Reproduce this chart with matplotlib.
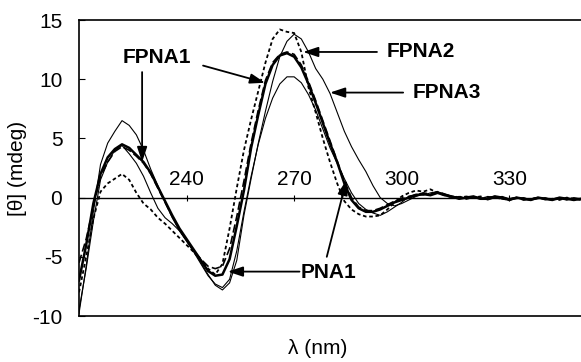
import numpy as np
import matplotlib
matplotlib.use("Agg")
import matplotlib.pyplot as plt

plt.rcParams['font.family'] = ['Liberation Sans', 'DejaVu Sans']
plt.rcParams['axes.unicode_minus'] = False

# Wavelength grid (nm), 2 nm steps
wavelength = np.arange(210, 351, 2)

# CD signals (mdeg)
thin_a = [-9.8, -5.8, -1.2, 2.8, 4.6, 5.6, 6.5, 6.1, 5.3, 4.0,
          2.4, 1.0, -0.4, -1.7, -2.8, -3.7, -4.6, -5.6, -6.6, -7.3,
          -7.6, -6.9, -4.5, -1.2, 1.8, 4.5, 6.7, 8.4, 9.6, 10.2,
          10.2, 9.7, 8.7, 7.4, 5.8, 4.2, 2.9, 1.6, 0.4, -0.5,
          -1.0, -1.3, -1.5, -1.2, -0.8, -0.4,
          0.1, 0.3, 0.2, 0.4, 0.5, 0.3, 0.1, 0.0, -0.1, 0.1, 0.0, -0.2, 0.0,
          0.1, -0.1, 0.0, -0.2, -0.1, 0.0, -0.2, -0.1, 0.0, -0.2, -0.1, -0.2]
thick_b = [-7.0, -4.0, -0.5, 2.0, 3.4, 4.1, 4.5, 4.2, 3.6, 3.0,
           2.1, 0.9, -0.3, -1.5, -2.6, -3.5, -4.4, -5.3, -6.2, -6.6,
           -6.5, -5.2, -2.4, 0.6, 4.2, 7.0, 9.6, 11.2, 12.0, 12.2,
           11.9, 11.0, 9.6, 8.0, 6.3, 4.6, 3.0, 1.2, -0.2, -0.9,
           -1.2, -1.2, -1.0, -0.7, -0.4, -0.2,
           0.0, 0.2, 0.3, 0.2, 0.4, 0.2, 0.1, -0.1, 0.0, 0.1, -0.1, -0.1, 0.1,
           0.0, -0.2, 0.0, -0.1, -0.2, 0.0, -0.1, -0.2, 0.0, -0.1, -0.2, -0.1]
dash_c = [-5.5, -3.5, -0.8, 1.8, 3.0, 3.9, 4.3, 4.0, 3.5, 2.9,
          2.0, 0.8, -0.4, -1.6, -2.7, -3.6, -4.5, -5.2, -5.8, -6.0,
          -5.8, -4.3, -1.6, 1.4, 4.6, 7.4, 9.9, 11.4, 12.1, 12.3,
          12.1, 11.2, 9.8, 8.2, 6.5, 4.8, 3.1, 1.4, 0.0, -0.8,
          -1.1, -1.1, -0.9, -0.6, -0.3, -0.1,
          0.1, 0.2, 0.4, 0.3, 0.5, 0.3, 0.1, 0.0, 0.1, 0.0, -0.1, 0.0, 0.1,
          -0.1, -0.1, 0.0, -0.2, -0.1, 0.0, -0.1, -0.2, -0.1, 0.0, -0.2, -0.1]
dot_d = [-8.0, -5.0, -1.8, 0.5, 1.2, 1.6, 2.0, 1.5, 0.4, -0.5,
         -1.0, -1.7, -2.2, -2.8, -3.4, -4.0, -4.6, -5.3, -6.0, -6.5,
         -5.6, -2.6, 0.8, 4.0, 6.6, 9.0, 11.4, 13.4, 14.2, 14.0,
         13.9, 12.3, 9.3, 7.2, 5.0, 3.0, 1.2, -0.3, -1.0, -1.4,
         -1.6, -1.6, -1.5, -1.0, -0.4, 0.1,
         0.4, 0.6, 0.5, 0.7, 0.4, 0.2, 0.0, 0.1, -0.1, 0.0, 0.1, -0.1, 0.0,
         -0.1, -0.2, 0.0, -0.1, -0.2, 0.0, -0.1, -0.1, -0.2, 0.0, -0.1, -0.2]
thin_e = [-9.5, -6.0, -2.0, 1.5, 3.0, 4.0, 4.4, 3.7, 2.9, 1.8,
          0.4, -0.9, -1.7, -2.2, -2.8, -3.6, -4.5, -5.5, -6.5, -7.4,
          -7.8, -7.2, -5.3, -1.5, 1.6, 4.6, 7.3, 9.8, 11.9, 13.2,
          13.8, 13.4, 12.3, 10.9, 10.0, 8.8, 7.2, 5.6, 4.3, 3.2,
          2.2, 1.0, 0.0, -0.5, -0.7, -0.5,
          -0.2, 0.1, 0.3, 0.2, 0.4, 0.2, 0.0, 0.1, -0.1, 0.0, -0.1, 0.1, 0.0,
          -0.1, -0.2, -0.1, 0.0, -0.2, -0.1, 0.0, -0.2, -0.1, -0.2, 0.0, -0.1]

x_ticks = [240, 270, 300, 330]
y_ticks = [-10, -5, 0, 5, 10, 15]

fig = plt.figure(figsize=(5.81, 3.62), dpi=100)
ax = fig.add_axes([79 / 581, 46 / 362, 502 / 581, 296 / 362])

ax.plot(wavelength, thin_a, color='black', lw=0.8)
ax.plot(wavelength, thin_e, color='black', lw=0.8)
ax.plot(wavelength, dash_c, color='black', lw=1.2, dashes=(5, 2))
ax.plot(wavelength, dot_d, color='black', lw=1.3, dashes=(2, 1.5))
ax.plot(wavelength, thick_b, color='black', lw=1.8)

ax.set_xlim(210, 350)
ax.set_ylim(-10, 15)

# x axis sits on the zero line, labels above it
ax.xaxis.tick_top()
ax.spines['top'].set_position(('data', 0))
ax.spines['top'].set_linewidth(1.0)
ax.spines['right'].set_visible(False)
ax.spines['left'].set_linewidth(1.2)
ax.spines['bottom'].set_linewidth(1.2)
ax.axhline(15, color='black', lw=1.2, clip_on=False)

ax.set_xticks(x_ticks)
ax.set_yticks(y_ticks)
ax.tick_params(axis='x', direction='inout', length=5, labelsize=15, pad=4)
ax.tick_params(axis='y', direction='in', length=4, labelsize=15, pad=12)

ax.set_ylabel('[θ] (mdeg)', fontsize=15, labelpad=4)
fig.text(318 / 581, 1 - 348 / 362, 'λ (nm)', fontsize=15, ha='center', va='center')

# Labels and arrows
arrow = dict(arrowstyle='-|>,head_length=0.9,head_width=0.3', color='black',
             lw=1.3, shrinkA=0, shrinkB=0)
bold = dict(fontsize=15, fontweight='bold', ha='center', va='center')

ax.text(231.8, 11.8, 'FPNA1', **bold)
ax.annotate('', xy=(227.6, 3.0), xytext=(227.6, 10.6), arrowprops=arrow)
ax.annotate('', xy=(261.9, 9.7), xytext=(244.6, 11.15), arrowprops=arrow)

ax.text(305.4, 12.3, 'FPNA2', **bold)
ax.annotate('', xy=(272.5, 12.3), xytext=(293.1, 12.3), arrowprops=arrow)

ax.text(312.6, 8.87, 'FPNA3', **bold)
ax.annotate('', xy=(280.0, 8.87), xytext=(300.4, 8.87), arrowprops=arrow)

ax.text(279.5, -6.3, 'PNA1', **bold)
ax.annotate('', xy=(251.5, -6.25), xytext=(271.5, -6.25), arrowprops=arrow)
ax.annotate('', xy=(284.6, 1.5), xytext=(279.1, -5.0), arrowprops=arrow)

fig.savefig('out.png', dpi=100)
